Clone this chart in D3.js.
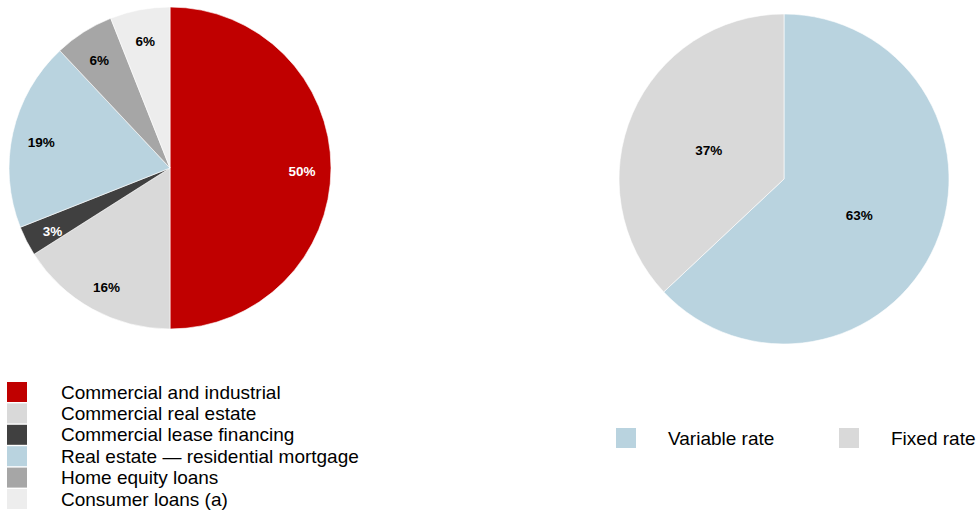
<!DOCTYPE html>
<html>
<head>
<meta charset="utf-8">
<script src="https://cdn.jsdelivr.net/npm/d3@7"></script>
<style>
  body { margin: 0; background: #fff; }
  text { font-family: "Liberation Sans", Arial, sans-serif; }
</style>
</head>
<body>
<svg id="chart" width="977" height="514"></svg>
<script>
// loan mix (left pie), clockwise from 12 o'clock
const loanCategories = [
  "Commercial and industrial",
  "Commercial real estate",
  "Commercial lease financing",
  "Real estate \u2014 residential mortgage",
  "Home equity loans",
  "Consumer loans (a)"
];
const loanValues = [50, 16, 3, 19, 6, 6];
const loanColors = ["#c00000", "#d9d9d9", "#404040", "#b9d3df", "#a6a6a6", "#ededed"];
const loanLabelColors = ["#fff", "#000", "#fff", "#000", "#000", "#000"];

// rate mix (right pie)
const rateCategories = ["Variable rate", "Fixed rate"];
const rateValues = [63, 37];
const rateColors = ["#b9d3df", "#d9d9d9"];

const svg = d3.select("#chart");

const pie = d3.pie().sort(null).value(d => d.value);

function drawPie(cx, cy, r, labelR, data) {
  const g = svg.append("g").attr("transform", `translate(${cx},${cy})`);
  const arc = d3.arc().innerRadius(0).outerRadius(r);
  const labelArc = d3.arc().innerRadius(labelR).outerRadius(labelR);
  const arcs = pie(data);
  g.selectAll("path")
    .data(arcs)
    .enter()
    .append("path")
    .attr("d", arc)
    .attr("fill", d => d.data.color)
    .attr("stroke", "#fff")
    .attr("stroke-width", 0.6);
  g.selectAll("text")
    .data(arcs)
    .enter()
    .append("text")
    .attr("transform", d => `translate(${labelArc.centroid(d)})`)
    .attr("text-anchor", "middle")
    .attr("dy", "0.6em")
    .attr("font-size", 13.5)
    .attr("font-weight", "bold")
    .attr("fill", d => d.data.labelColor)
    .text(d => d.data.value + "%");
}

const loanData = loanValues.map((v, i) => ({
  value: v, color: loanColors[i], labelColor: loanLabelColors[i]
}));
const rateData = rateValues.map((v, i) => ({
  value: v, color: rateColors[i], labelColor: "#000"
}));

drawPie(170, 168, 161, 132, loanData);
drawPie(784, 179, 165, 82, rateData);

// left legend
const legL = svg.append("g").attr("transform", "translate(7,382)");
const rowY = d3.scaleLinear().domain([0, 1]).range([0, 21.4]);
loanCategories.forEach((c, i) => {
  legL.append("rect")
    .attr("x", 0)
    .attr("y", rowY(i))
    .attr("width", 20)
    .attr("height", 20)
    .attr("fill", loanColors[i]);
  legL.append("text")
    .attr("x", 54)
    .attr("y", rowY(i) + 10)
    .attr("dy", "0.35em")
    .attr("font-size", 19)
    .attr("fill", "#000")
    .text(c);
});

// right legend
const legX = [616, 839];
rateCategories.forEach((c, i) => {
  svg.append("rect")
    .attr("x", legX[i])
    .attr("y", 428)
    .attr("width", 20)
    .attr("height", 20)
    .attr("fill", rateColors[i]);
  svg.append("text")
    .attr("x", legX[i] + 52)
    .attr("y", 438)
    .attr("dy", "0.35em")
    .attr("font-size", 19)
    .attr("fill", "#000")
    .text(c);
});
</script>
</body>
</html>
